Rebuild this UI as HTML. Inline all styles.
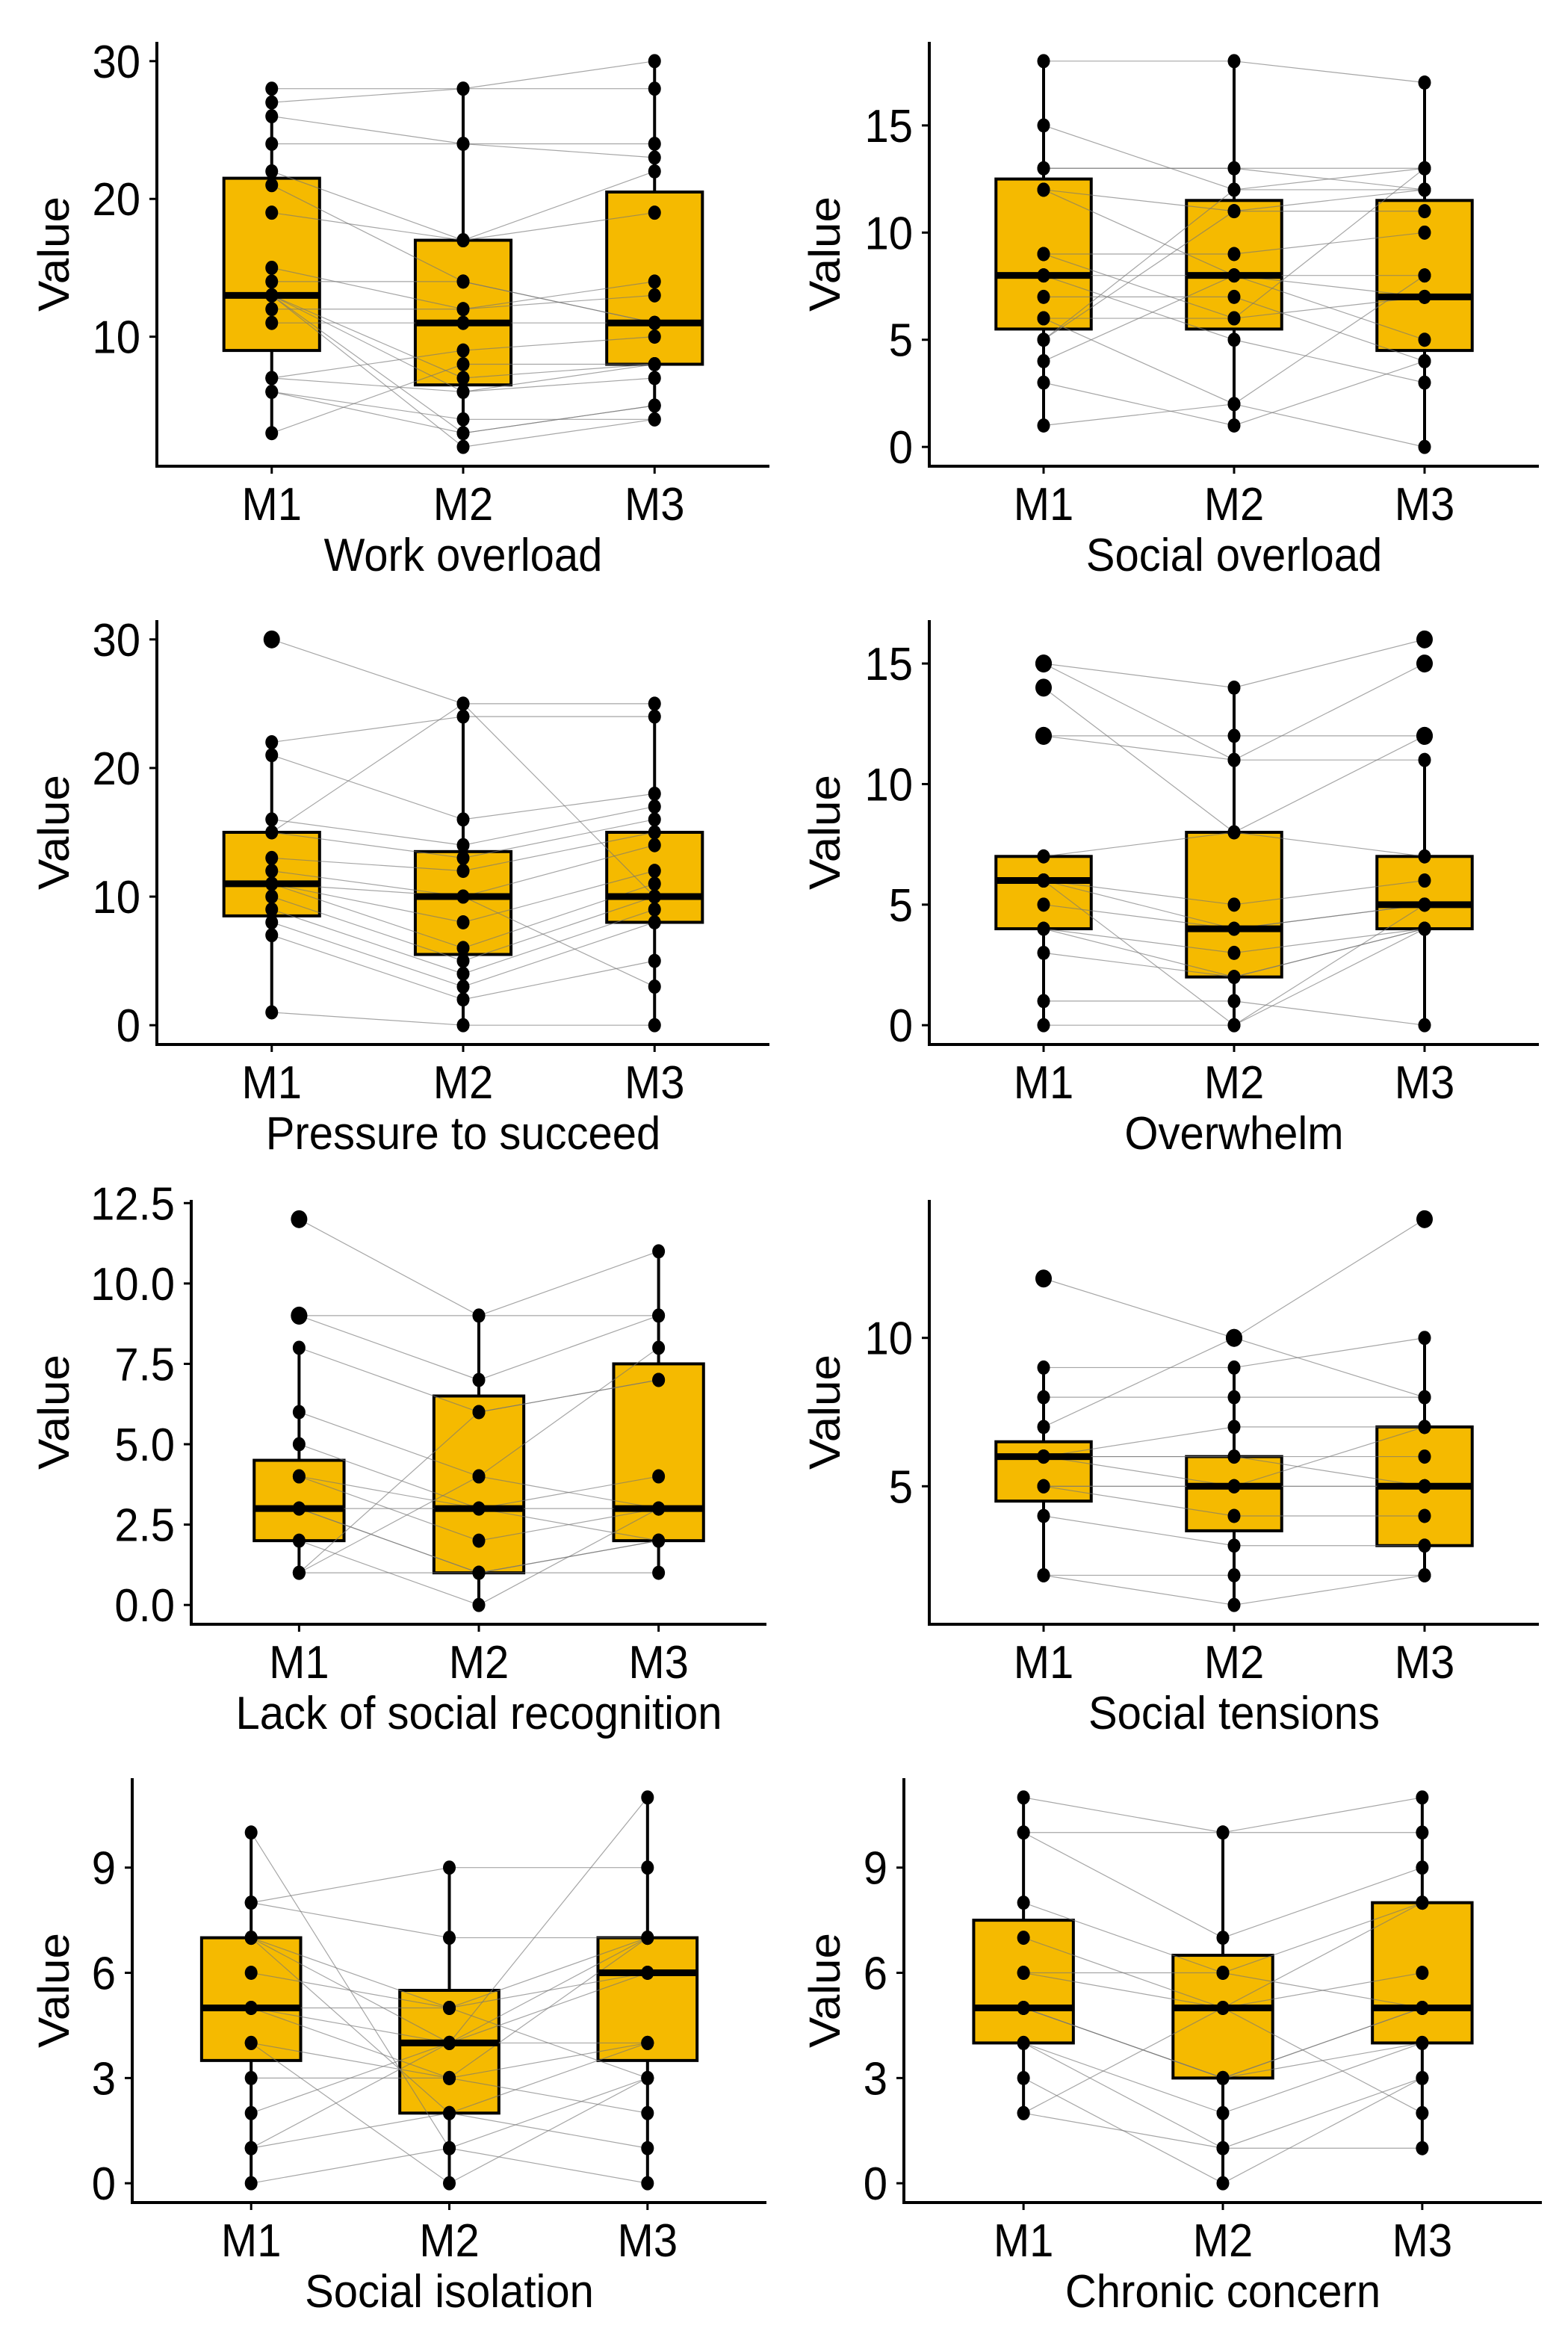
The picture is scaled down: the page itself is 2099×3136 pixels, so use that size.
<!DOCTYPE html>
<html><head><meta charset="utf-8"><style>
html,body{margin:0;padding:0;background:#fff;}
svg{display:block;}
text{font-family:"Liberation Sans",Arial,sans-serif;fill:#000;}
</style></head><body>
<svg id="chart" width="2099" height="3136" viewBox="0 0 2099 3136" xmlns="http://www.w3.org/2000/svg"></svg>
<script>
const categories = ["M1","M2","M3"];
const titles = ["Work overload","Social overload","Pressure to succeed","Overwhelm","Lack of social recognition","Social tensions","Social isolation","Chronic concern"];
const yTicks = [[10,20,30],[0,5,10,15],[0,10,20,30],[0,5,10,15],[0,2.5,5,7.5,10,12.5],[5,10],[0,3,6,9],[0,3,6,9]];
const tickLabels = [["10","20","30"],["0","5","10","15"],["0","10","20","30"],["0","5","10","15"],["0.0","2.5","5.0","7.5","10.0","12.5"],["5","10"],["0","3","6","9"],["0","3","6","9"]];
const yRanges = [[2,30],[0,18],[0,30],[0,16],[0,12],[1,14],[0,11],[0,11]];
// box stats per group: [q1, median, q3, whiskerLow, whiskerHigh]
const boxM1 = [[9,13,21.5,3,28],[5.5,8,12.5,1,18],[8.5,11,15,1,22],[4,6,7,0,7],[2,3,4.5,1,8],[4.5,6,6.5,2,9],[3.5,5,7,0,10],[4,5,7.5,2,11]];
const boxM2 = [[6.5,11,17,2,28],[5.5,8,11.5,1,18],[5.5,10,13.5,0,25],[2,4,8,0,14],[1,3,6.5,0,9],[3.5,5,6,1,9],[2,4,5.5,0,9],[3,5,6.5,0,10]];
const boxM3 = [[8,11,20.5,4,30],[4.5,7,11.5,0,17],[8,10,15,0,25],[4,5,7,0,11],[2,3,7.5,1,11],[3,5,7,2,10],[3.5,6,7,0,11],[4,5,8,1,11]];
// subject values per panel
const valsM1 = [
 [28,27,26,24,22,21,19,15,14,13,13,13,13,12,11,7,7,6,6,3],
 [18,15,13,12,12,9,9,8,8,7,6,6,5,4,3,1,13,5],
 [30,22,21,16,15,13,12,11,11,10,9,8,7,1,11,15],
 [15,15,14,12,7,6,6,5,4,4,3,1,0,12,6],
 [12,9,9,8,6,5,4,4,3,3,2,1,1,1,3],
 [12,9,8,7,6,6,6,5,5,4,2,2,6,5],
 [10,8,8,7,7,6,5,5,5,4,4,3,2,1,1,0,7],
 [11,10,10,8,7,6,5,5,5,4,4,3,2,2,6]];
const valsM2 = [
 [28,28,24,24,17,14,17,12,14,7,6,3,2,12,11,9,6,4,3,8],
 [18,12,13,8,11,9,6,5,8,7,6,2,12,8,1,2,13,11],
 [25,24,16,14,13,12,10,8,6,5,4,3,2,0,10,25],
 [14,11,8,12,8,5,4,4,3,2,2,1,0,11,0],
 [9,9,7,6,4,3,3,2,1,1,0,1,6,4,3],
 [10,9,8,10,7,6,5,5,4,3,2,1,6,5],
 [1,9,7,5,4,5,4,5,3,3,0,3,4,2,4,1,2],
 [10,10,7,6,5,5,3,3,3,2,1,0,1,5,6]];
const valsM3 = [
 [30,28,23,24,22,11,19,14,11,8,7,5,4,13,11,10,8,4,5,8],
 [17,13,12,8,11,10,7,3,5,4,13,8,12,7,4,0,13,12],
 [25,24,18,17,16,15,14,12,11,10,9,8,5,0,3,10],
 [16,15,12,12,7,6,5,5,4,4,4,0,4,11,5],
 [11,9,9,7,8,4,3,3,2,1,3,2,7,3,2],
 [14,10,8,8,7,6,5,5,4,3,2,2,5,7],
 [3,9,7,7,6,6,4,3,7,4,3,2,7,4,11,0,1],
 [11,10,9,8,8,6,5,5,4,4,3,3,1,2,5]];
// layout: [left, right, top, bottom]
const layout = [[210,1030,56,624],[1244,2060,56,624],[210,1030,830,1398],[1244,2060,830,1398],[256,1026,1606,2174],[1244,2060,1606,2174],[177,1026,2380,2948],[1210,2064,2380,2948]];

const NS="http://www.w3.org/2000/svg";
const svg=document.getElementById('chart');
function mk(tag,attrs,parent){const e=document.createElementNS(NS,tag);for(const k in attrs)e.setAttribute(k,attrs[k]);(parent||svg).appendChild(e);return e;}
const SY=1.07;
function txt(x,y,s,anchor,parent,rot){
  const t=mk('text',{'text-anchor':anchor,'font-size':58,transform:rot?`translate(${x},${y}) rotate(-90) scale(${SY},1)`:`translate(${x},${y}) scale(1,${SY})`},parent);
  t.textContent=s;return t;
}
for(let p=0;p<8;p++){
  const [L,R,T,B]=layout[p];
  const g=mk('g',{});
  
  
  const [lo,hi]=yRanges[p];const ex=(hi-lo)*0.05;const y0=lo-ex,y1=hi+ex;
  const ys=v=>B-(v-y0)/(y1-y0)*(B-T);
  const xs=i=>L+(R-L)*(i+0.6)/3.2;
  const bw=(R-L)/3.2*0.5;
  const boxes=[boxM1[p],boxM2[p],boxM3[p]];
  const vals=[valsM1[p],valsM2[p],valsM3[p]];
  for(let i=0;i<3;i++){
    const [q1,md,q3,wl,wh]=boxes[i];const x=xs(i);
    const w=mk('line',{x1:x,x2:x,y1:ys(wl),y2:ys(wh),stroke:'#000','stroke-width':4},g);
    
    
    const r=mk('rect',{x:x-bw/2,y:ys(q3),width:bw,height:ys(q1)-ys(q3),fill:'#F5BA00',stroke:'#000','stroke-width':4},g);
    
    
  }
  for(let s=0;s<vals[0].length;s++){
    const pl=mk('polyline',{points:[0,1,2].map(i=>xs(i)+','+ys(vals[i][s])).join(' '),fill:'none',stroke:'#777','stroke-opacity':0.65,'stroke-width':1.2},g);
    
    
  }
  for(let i=0;i<3;i++){
    const x=xs(i);const m=boxes[i][1];
    const ml=mk('line',{x1:x-bw/2,x2:x+bw/2,y1:ys(m),y2:ys(m),stroke:'#000','stroke-width':9},g);
    
    
  }
  for(let i=0;i<3;i++){
    const x=xs(i);const [,,,wl,wh]=boxes[i];
    for(const v of vals[i]){
      const out=v<wl||v>wh;
      const c=mk('ellipse',{cx:x,cy:ys(v),rx:out?11:8.5,ry:out?12:9.5,fill:'#000'},g);
      
      
    }
  }
  const ya=mk('line',{x1:L,x2:L,y1:T,y2:B+2,stroke:'#000','stroke-width':4},g);
  
  
  const xa=mk('line',{x1:L-2,x2:R,y1:B,y2:B,stroke:'#000','stroke-width':4},g);
  
  
  yTicks[p].forEach((v,k)=>{
    const y=ys(v);
    const tl=mk('line',{x1:L-10,x2:L,y1:y,y2:y,stroke:'#000','stroke-width':3},g);
    
    
    const t=txt(L-22,y+22,tickLabels[p][k],'end',g);
    
    
  });
  categories.forEach((c,i)=>{
    const x=xs(i);
    const tl=mk('line',{x1:x,x2:x,y1:B,y2:B+10,stroke:'#000','stroke-width':3},g);
    
    
    const t=txt(x,B+72,c,'middle',g);
    
    
  });
  const xt=txt((L+R)/2,B+140,titles[p],'middle',g);
  
  
  const yt=txt(p%2===0?92:1124,(T+B)/2,'Value','middle',g,true);
  
  
}
</script>
</body></html>
